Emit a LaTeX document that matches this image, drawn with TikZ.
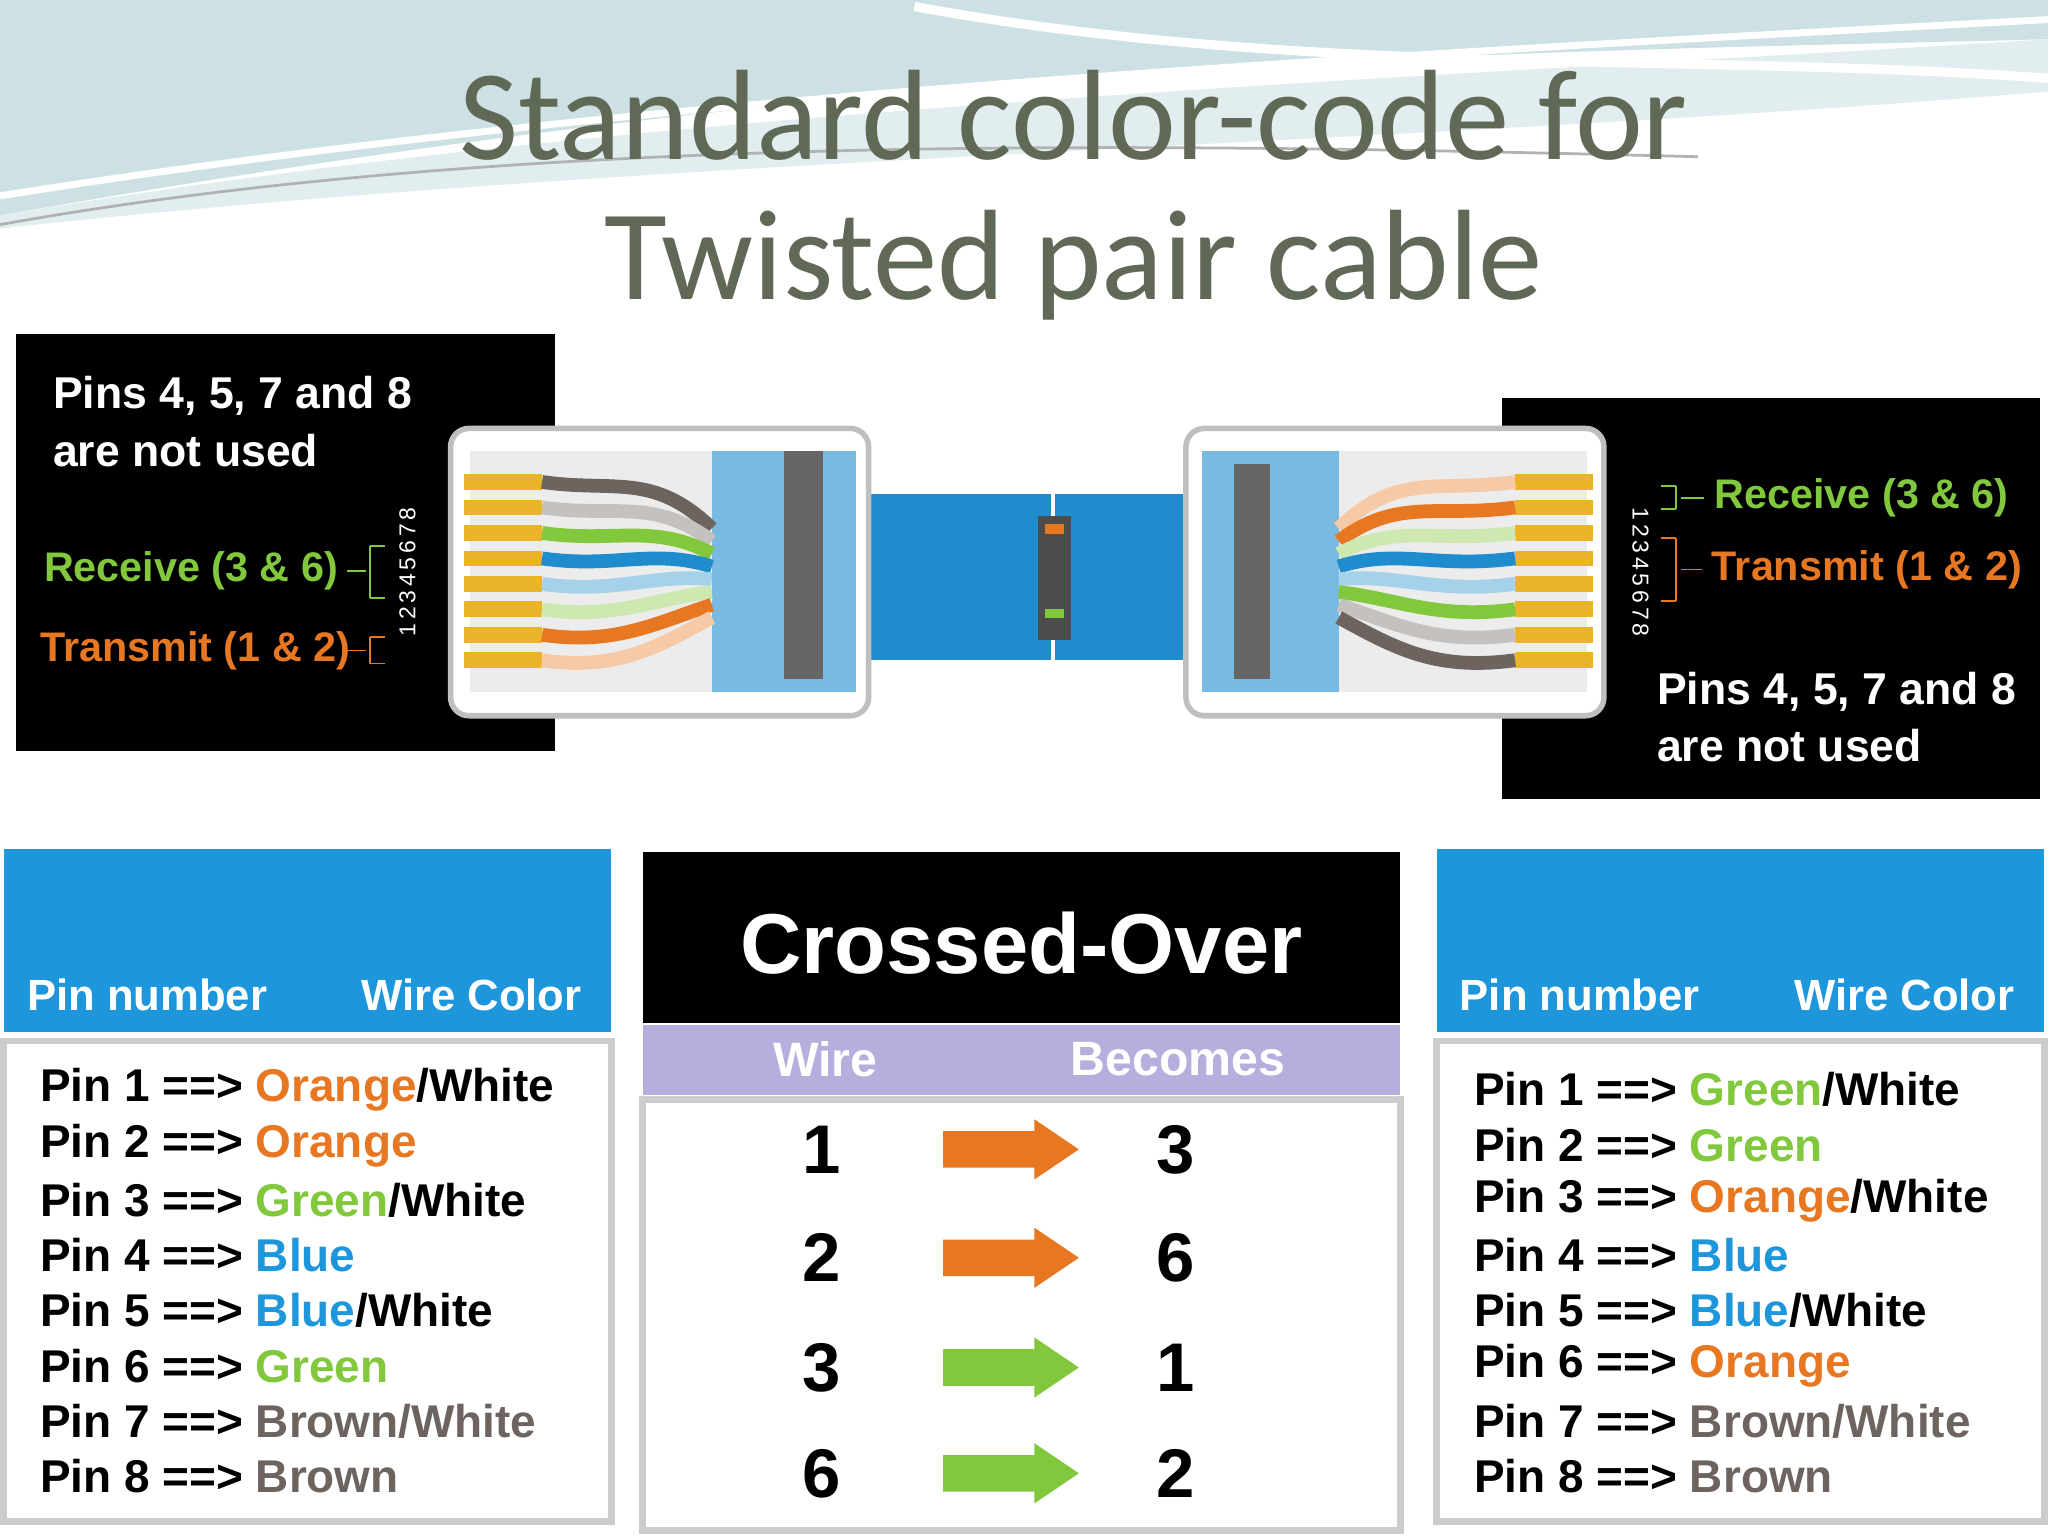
\documentclass[tikz,border=0pt]{standalone}
\usepackage{fontspec}
\setmainfont{Liberation Sans}
\newfontfamily\titlefont{Carlito}
\definecolor{ttl}{RGB}{95,105,85}
\definecolor{hblue}{RGB}{30,150,220}
\definecolor{cblue}{RGB}{30,140,205}
\definecolor{rgreen}{RGB}{130,200,60}
\definecolor{torange}{RGB}{232,119,34}
\definecolor{lav}{RGB}{180,175,220}
\definecolor{swoosh}{RGB}{205,225,228}
\definecolor{brn}{RGB}{110,100,95}
\definecolor{gold}{RGB}{235,180,40}
\tikzset{
  wtxt/.style={text=white,font=\bfseries\fontsize{9.7}{12}\selectfont,anchor=west,inner sep=0},
  ctxt/.style={font=\bfseries\fontsize{9}{12}\selectfont,anchor=west,inner sep=0},
  rowtxt/.style={font=\bfseries\fontsize{10}{12}\selectfont,anchor=west,inner sep=0},
  hdr/.style={text=white,font=\bfseries\fontsize{9.5}{12}\selectfont,anchor=west,inner sep=0},
  num/.style={font=\bfseries\fontsize{15}{16}\selectfont,inner sep=0},
  conn/.style={fill=white,draw=gray!50,line width=1.2pt,rounded corners=4pt},
}
\newcommand{\orng}[1]{\textcolor{torange}{#1}}
\newcommand{\grn}[1]{\textcolor{rgreen}{#1}}
\newcommand{\blu}[1]{\textcolor{hblue}{#1}}
\newcommand{\brw}[1]{\textcolor{brn}{#1}}
\newcommand{\fatarrow}[3]{% name, y, color
  \fill[#3] (722,#2-14) -- (792,#2-14) -- (792,#2-23) -- (826,#2) -- (792,#2+23) -- (792,#2+14) -- (722,#2+14) -- cycle;
  \coordinate (#1) at (774,#2);}
\begin{document}
\begin{tikzpicture}[x=0.01cm,y=-0.01cm]
\useasboundingbox (0,0) rectangle (1568,1176);
\fill[white] (0,0) rectangle (1568,1176);
% swoosh
\fill[swoosh] (0,0) -- (1568,0) -- (1568,30) .. controls (1200,40) and (700,40) .. (0,165) -- cycle;
\fill[swoosh!60] (0,165) .. controls (500,80) and (1100,60) .. (1568,30) -- (1568,70) .. controls (1100,110) and (500,120) .. (0,175) -- cycle;
\draw[white,line width=1.5pt] (0,150) .. controls (500,70) and (1100,40) .. (1568,15);
\draw[gray!60,line width=0.6pt] (0,172) .. controls (400,100) and (900,110) .. (1300,120);
\draw[white,line width=2pt] (700,5) .. controls (1000,60) and (1300,40) .. (1568,60);
% title
\node[text=ttl,font=\titlefont\fontsize{28}{34}\selectfont] (t1) at (822,88) {Standard color-code for};
\node[text=ttl,font=\titlefont\fontsize{28}{34}\selectfont] (t2) at (822,203) {Twisted pair cable};
% black boxes
\fill[black] (12,256) rectangle (425,575);
\fill[black] (1150,305) rectangle (1562,612);
\node[wtxt] (l1) at (40,303) {Pins 4, 5, 7 and 8};
\node[wtxt] (l2) at (40,345) {are not used};
\node[ctxt,text=rgreen] (lr) at (33,437) {Receive (3 \& 6)};
\node[ctxt,text=torange] (lt) at (30,498) {Transmit (1 \& 2)};
\node[wtxt] (r1) at (1268,530) {Pins 4, 5, 7 and 8};
\node[wtxt] (r2) at (1268,571) {are not used};
\node[ctxt,text=rgreen] (rr) at (1312,381) {Receive (3 \& 6)};
\node[ctxt,text=torange] (rt) at (1310,436) {Transmit (1 \& 2)};
\node[text=white,font=\fontsize{5}{6}\selectfont,rotate=90] (ln) at (312,438) {1\,2\,3\,4\,5\,6\,7\,8};
\node[text=white,font=\fontsize{5}{6}\selectfont,rotate=-90] (rn) at (1256,438) {1\,2\,3\,4\,5\,6\,7\,8};
\draw[rgreen] (266,437) -- (280,437) (283,418) -- (283,458) (283,418) -- (295,418) (283,458) -- (295,458);
\draw[torange] (266,498) -- (280,498) (283,488) -- (283,508) (283,488) -- (295,488) (283,508) -- (295,508);
\draw[rgreen] (1305,381) -- (1287,381) (1283,372) -- (1283,390) (1283,372) -- (1272,372) (1283,390) -- (1272,390);
\draw[torange] (1303,436) -- (1287,436) (1283,412) -- (1283,460) (1283,412) -- (1272,412) (1283,460) -- (1272,460);
% cable
\fill[cblue] (540,378) rectangle (805,505);
\fill[cblue] (808,378) rectangle (1030,505);
\fill[black!70] (795,395) rectangle (820,490);
\draw[torange,line width=2pt] (800,405) -- (815,405);
\draw[rgreen,line width=2pt] (800,470) -- (815,470);
% connectors
\draw[conn] (345,328) rectangle (665,548);
\draw[conn] (908,328) rectangle (1228,548);
\fill[gray!15] (360,345) rectangle (545,530);
\fill[gray!15] (1025,345) rectangle (1215,530);
\fill[cblue!60] (545,345) rectangle (655,530);
\fill[cblue!60] (920,345) rectangle (1025,530);
\fill[black!60] (600,345) rectangle (630,520);
\fill[black!60] (945,355) rectangle (972,520);
\foreach \c [count=\i] in {brn,brn!40,rgreen,cblue,cblue!40,rgreen!40,torange,torange!40}{
  \pgfmathsetmacro{\yy}{369+(\i-1)*19.5}
  \fill[gold] (355,\yy-6) rectangle (415,\yy+6);
  \fill[gold] (1160,\yy-6) rectangle (1220,\yy+6);
  \draw[\c,line width=3pt] (415,\yy) .. controls (470,\yy+8) and (500,\yy-8) .. (545,\yy/2+220);
}
\foreach \c [count=\i] in {torange!40,torange,rgreen!40,cblue,cblue!40,rgreen,brn!40,brn}{
  \pgfmathsetmacro{\yy}{369+(\i-1)*19.5}
  \draw[\c,line width=3pt] (1160,\yy) .. controls (1100,\yy+8) and (1070,\yy-8) .. (1025,\yy/2+220);
}
% left table
\fill[hblue] (3,650) rectangle (468,790);
\node[hdr] (lh1) at (20,762) {Pin number};
\node[hdr] (lh2) at (276,762) {Wire Color};
\draw[gray!40,line width=1.5pt] (3,797) rectangle (468,1165);
\node[rowtxt] (a1) at (30,834) {Pin 1 ==> \orng{Orange}/White};
\node[rowtxt] (a2) at (30,877) {Pin 2 ==> \orng{Orange}};
\node[rowtxt] (a3) at (30,919) {Pin 3 ==> \grn{Green}/White};
\node[rowtxt] (a4) at (30,961) {Pin 4 ==> \blu{Blue}};
\node[rowtxt] (a5) at (30,1003) {Pin 5 ==> \blu{Blue}/White};
\node[rowtxt] (a6) at (30,1046) {Pin 6 ==> \grn{Green}};
\node[rowtxt] (a7) at (30,1088) {Pin 7 ==> \brw{Brown/White}};
\node[rowtxt] (a8) at (30,1130) {Pin 8 ==> \brw{Brown}};
% right table
\fill[hblue] (1100,650) rectangle (1565,790);
\node[hdr] (rh1) at (1117,762) {Pin number};
\node[hdr] (rh2) at (1373,762) {Wire Color};
\draw[gray!40,line width=1.5pt] (1100,797) rectangle (1565,1165);
\node[rowtxt] (b1) at (1128,834) {Pin 1 ==> \grn{Green}/White};
\node[rowtxt] (b2) at (1128,877) {Pin 2 ==> \grn{Green}};
\node[rowtxt] (b3) at (1128,919) {Pin 3 ==> \orng{Orange}/White};
\node[rowtxt] (b4) at (1128,961) {Pin 4 ==> \blu{Blue}};
\node[rowtxt] (b5) at (1128,1003) {Pin 5 ==> \blu{Blue}/White};
\node[rowtxt] (b6) at (1128,1046) {Pin 6 ==> \orng{Orange}};
\node[rowtxt] (b7) at (1128,1088) {Pin 7 ==> \brw{Brown/White}};
\node[rowtxt] (b8) at (1128,1130) {Pin 8 ==> \brw{Brown}};
% middle
\fill[black] (492,652) rectangle (1072,783);
\node[text=white,font=\bfseries\fontsize{18.5}{22}\selectfont] (co) at (782,722) {Crossed-Over};
\fill[lav] (492,785) rectangle (1072,838);
\node[text=white,font=\bfseries\fontsize{10.5}{12}\selectfont] (w) at (632,811) {Wire};
\node[text=white,font=\bfseries\fontsize{10.5}{12}\selectfont] (bc) at (902,811) {Becomes};
\draw[gray!40,line width=1.5pt] (492,842) rectangle (1072,1172);
\node[num] (n1) at (629,880) {1}; \node[num] (m1) at (900,880) {3};
\node[num] (n2) at (629,963) {2}; \node[num] (m2) at (900,963) {6};
\node[num] (n3) at (629,1047) {3}; \node[num] (m3) at (900,1047) {1};
\node[num] (n4) at (629,1128) {6}; \node[num] (m4) at (900,1128) {2};
\fatarrow{ar1}{880}{torange}
\fatarrow{ar2}{963}{torange}
\fatarrow{ar3}{1047}{rgreen}
\fatarrow{ar4}{1128}{rgreen}
\end{tikzpicture}
\end{document}
